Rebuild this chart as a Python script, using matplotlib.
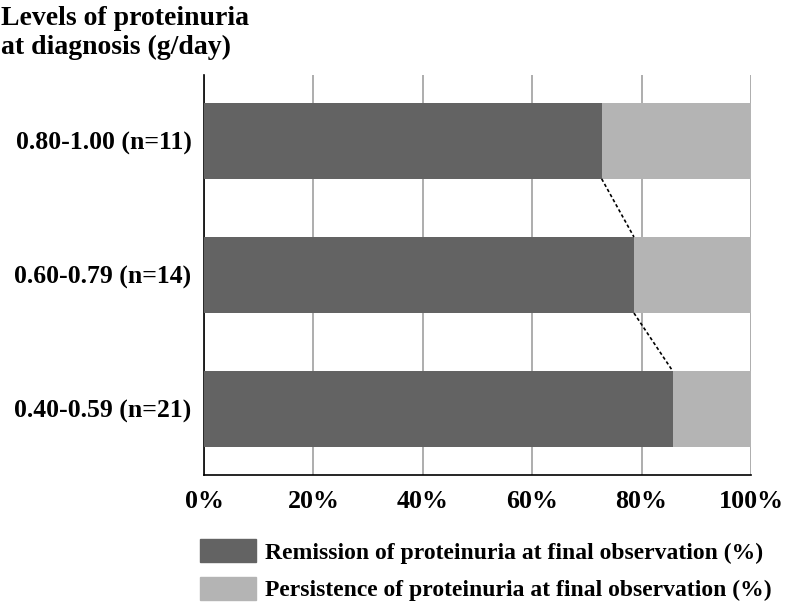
import numpy as np
import matplotlib.pyplot as plt
from matplotlib.patches import Patch

# dữ liệu
groups = ['0.40-0.59 (n=21)', '0.60-0.79 (n=14)', '0.80-1.00 (n=11)']
remission = [85.7, 78.6, 72.7]
persistence = [14.3, 21.4, 27.3]
xticks = [0, 20, 40, 60, 80, 100]

dark = '#636363'
light = '#b4b4b4'
plt.rcParams['font.family'] = ['Liberation Serif', 'DejaVu Serif']
plt.rcParams['font.weight'] = 'bold'

fig = plt.figure(figsize=(7.86, 6.10), dpi=100)
ax = fig.add_axes([204 / 786, 1 - 475 / 610, 547 / 786, 400 / 610])

y = np.arange(len(groups))
h = 0.567
ax.barh(y, remission, height=h, color=dark, zorder=3)
ax.barh(y, persistence, left=remission, height=h, color=light, zorder=3)

# đường nối nét đứt giữa các thanh
for i in range(len(groups) - 1):
    ax.plot([remission[i + 1], remission[i]], [y[i + 1] - h / 2, y[i] + h / 2],
            ls=(0, (2, 1.5)), color='black', lw=1.2, zorder=4)

ax.set_xlim(0, 100)
ax.set_ylim(-0.49, 2.49)
ax.set_xticks(xticks)
ax.set_xticklabels([f'{v}%' for v in xticks], fontsize=18.7, fontweight='bold')
ax.set_yticks(y)
ax.set_yticklabels(groups, fontsize=18.5, fontweight='bold')
ax.tick_params(axis='both', length=0)
ax.tick_params(axis='x', pad=11)
ax.tick_params(axis='y', pad=9)
ax.xaxis.grid(True, color='#a0a0a0', lw=1.2, zorder=0)
ax.spines['top'].set_visible(False)
ax.spines['right'].set_visible(False)
for s in ['left', 'bottom']:
    ax.spines[s].set_color('black')
    ax.spines[s].set_linewidth(1.2)

fig.text(1 / 786, 1 - 6 / 610, 'Levels of proteinuria\nat diagnosis (g/day)',
         fontsize=20, fontweight='bold', ha='left', va='top', linespacing=1.22)

handles = [Patch(color=dark), Patch(color=light)]
labels = ['Remission of proteinuria at final observation (%)',
          'Persistence of proteinuria at final observation (%)']
fig.legend(handles, labels, loc='upper left', bbox_to_anchor=(200 / 786, 1 - 539 / 610),
           frameon=False, borderpad=0, borderaxespad=0,
           handlelength=2.37, handleheight=1.14, handletextpad=0.38, labelspacing=0.55,
           prop={'weight': 'bold', 'size': 17})

fig.savefig('out.png', dpi=100)
